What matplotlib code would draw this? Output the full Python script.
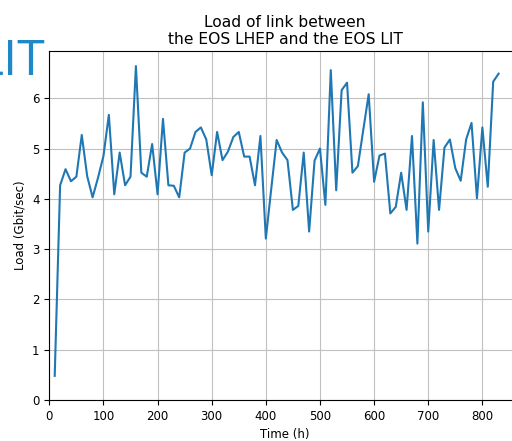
import numpy as np
import matplotlib
matplotlib.use("Agg")
import matplotlib.pyplot as plt

# Time axis (hours) and measured link load (Gbit/sec)
hours = np.arange(10, 840, 10)
load = [
    0.48, 4.27, 4.59, 4.35, 4.44, 5.27, 4.45, 4.03, 4.42, 4.85,
    5.67, 4.09, 4.92, 4.27, 4.44, 6.64, 4.52, 4.44, 5.09, 4.09,
    5.59, 4.27, 4.26, 4.03, 4.92, 5.00, 5.33, 5.42, 5.18, 4.47,
    5.33, 4.77, 4.94, 5.23, 5.33, 4.84, 4.84, 4.27, 5.25, 3.21,
    4.20, 5.17, 4.92, 4.77, 3.78, 3.86, 4.92, 3.35, 4.76, 5.00,
    3.88, 6.56, 4.17, 6.16, 6.31, 4.52, 4.65, 5.37, 6.08, 4.34,
    4.86, 4.90, 3.71, 3.84, 4.52, 3.78, 5.25, 3.11, 5.92, 3.35,
    5.17, 3.78, 5.02, 5.18, 4.61, 4.36, 5.18, 5.51, 4.01, 5.42,
    4.24, 6.33, 6.49,
]

W, H = 512, 441
fig = plt.figure(figsize=(W / 100, H / 100), dpi=100)
ax = fig.add_axes([49.3 / W, 41 / H, 471.5 / W, 349 / H])

ax.plot(hours, load, color="#1f77b4", lw=1.5)
ax.set_xlim(0, 871)
ax.set_ylim(0, 6.94)
ax.grid(True, color="#c0c0c0", lw=0.8)
ax.tick_params(labelsize=8.5)

ax.set_title("Load of link between\nthe EOS LHEP and the EOS LIT", fontsize=11.2, pad=5)
ax.set_xlabel("Time (h)", fontsize=8.5)
ax.set_ylabel("Load (Gbit/sec)", fontsize=8.5)

# leftover slide text behind the chart (cut at the left edge, as in the source)
fig.text(45 / W, 1 - 75 / H, "LIT", color="#1e88c8", fontsize=36,
         family="Open Sans", ha="right", va="baseline")

fig.savefig("out.png", dpi=100)
